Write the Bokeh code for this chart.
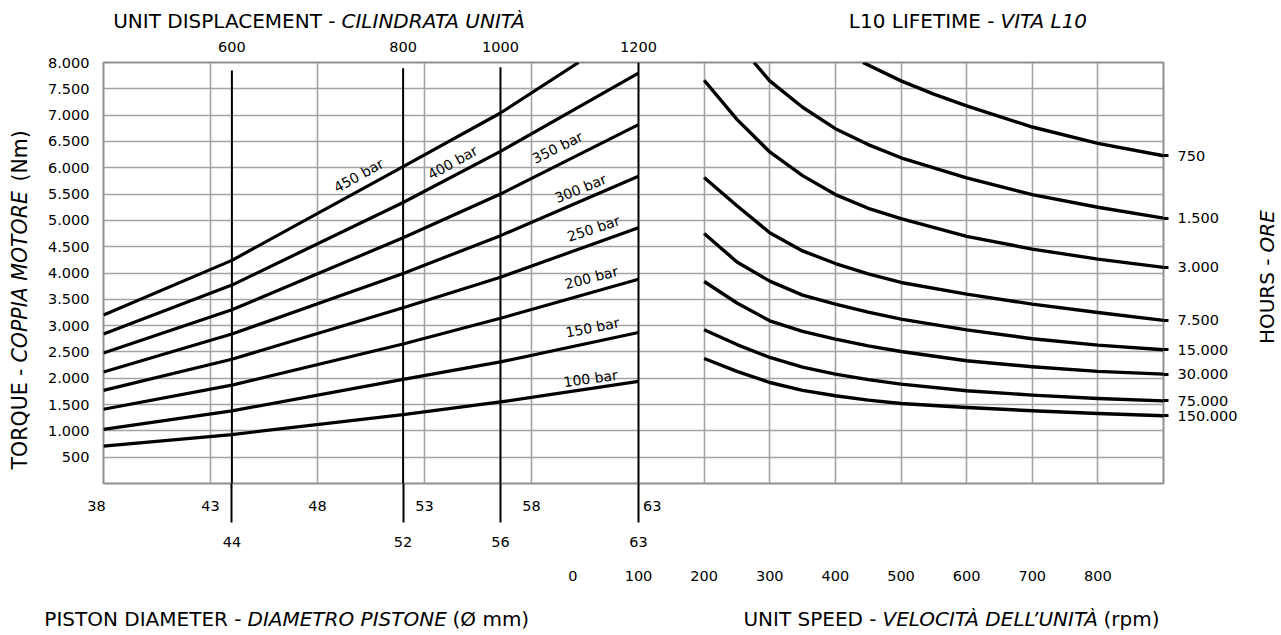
import math
from bokeh.plotting import figure
from bokeh.layouts import column, row
from bokeh.models import Range1d, LinearAxis, FixedTicker, Grid
from bokeh.core.properties import value
from bokeh.embed import file_html
from bokeh.resources import INLINE

# ---------------- data ----------------
# left chart: torque (Nm) vs piston diameter (mm) for each pressure
pressure_labels = ["100 bar", "150 bar", "200 bar", "250 bar", "300 bar", "350 bar", "400 bar", "450 bar"]
diameter_mm = [38, 44, 52, 56.55, 63]
torque_100 = [710, 930, 1310, 1550, 1940]
torque_150 = [1030, 1380, 1980, 2310, 2870]
torque_200 = [1410, 1870, 2650, 3140, 3880]
torque_250 = [1770, 2360, 3340, 3920, 4860]
torque_300 = [2120, 2840, 3990, 4710, 5840]
torque_350 = [2480, 3300, 4670, 5500, 6820]
torque_400 = [2840, 3770, 5340, 6310, 7800]
diameter_450 = [38, 44, 52, 56.55, 60.2]
torque_450 = [3200, 4240, 6020, 7040, 8000]

# nomogram: piston diameter -> unit displacement (line positions read on the 38..63 scale)
nomogram_position = [44, 52, 56.55, 63]
nomogram_diameter = [44, 52, 56, 63]
displacement = [600, 800, 1000, 1200]
nomogram_line_top = [7850, 7890, 7910, 8000]

# right chart: torque (Nm) vs unit speed (rpm) for each L10 life
hours_labels = ["750", "1.500", "3.000", "7.500", "15.000", "30.000", "75.000", "150.000"]
rpm_750 = [442, 500, 550, 600, 700, 800, 900]
torque_750 = [8000, 7651, 7400, 7174, 6774, 6463, 6228]
rpm_1500 = [276, 300, 350, 400, 450, 500, 600, 700, 800, 900]
torque_1500 = [8000, 7651, 7150, 6742, 6440, 6190, 5808, 5490, 5249, 5043]
rpm_std = [200, 250, 300, 350, 400, 450, 500, 600, 700, 800, 900]
torque_3000 = [7663, 6920, 6300, 5850, 5490, 5230, 5033, 4696, 4455, 4264, 4106]
torque_7500 = [5815, 5277, 4765, 4420, 4180, 3985, 3820, 3599, 3409, 3250, 3100]
torque_15000 = [4751, 4210, 3845, 3580, 3409, 3255, 3124, 2920, 2750, 2630, 2541]
torque_30000 = [3839, 3430, 3092, 2890, 2744, 2615, 2509, 2332, 2218, 2130, 2079]
torque_75000 = [2921, 2640, 2395, 2210, 2079, 1975, 1889, 1762, 1680, 1615, 1570]
torque_150000 = [2376, 2130, 1919, 1770, 1667, 1585, 1520, 1444, 1382, 1330, 1287]

torque_ticks = list(range(500, 8001, 500))
diameter_ticks = [38, 43, 48, 53, 58, 63]
speed_ticks = [0, 100, 200, 300, 400, 500, 600, 700, 800]
speed_grid = [200, 300, 400, 500, 600, 700, 800]

# ---------------- layout (canvas pixels) ----------------
FONT = "DejaVu Sans"
W, H = 1280, 632
TOP_H, BOT_Y = 34, 600
LEFT_W, RIGHT_X = 38, 1245
FRAME_L, FRAME_T, FW, FH = 103, 62, 1060, 421
FRAME_B = FRAME_T + FH
PX_PER_MM = 535 / 25.0
PX_PER_RPM = 525 / 800.0
x_end = 38 + FW / PX_PER_MM
speed_start = 100 - (638 - FRAME_L) / PX_PER_RPM
BORDER_TOP = FRAME_T - TOP_H
BORDER_BOTTOM = BOT_Y - FRAME_B


def strip(x0, x1, y0, y1, top=0, bottom=0):
    f = figure(frame_width=x1 - x0, frame_height=y1 - y0,
               x_range=Range1d(x0, x1), y_range=Range1d(y1, y0),
               x_axis_location=None, y_axis_location=None, min_border=0,
               min_border_top=top, min_border_bottom=bottom,
               output_backend="svg", toolbar_location=None)
    f.outline_line_color = None
    f.border_fill_color = "white"
    f.background_fill_color = "white"
    for g in f.grid:
        g.visible = False
    return f


def put(f, text, x, y, align, italic=False, angle=0.0, size="20px"):
    f.text(x=[x], y=[y], text=[text], angle=angle, text_align=align, text_baseline="middle",
           text_font=value(FONT), text_font_size=size,
           text_font_style="italic" if italic else "normal", text_color="black")


# main chart
p = figure(frame_width=FW, frame_height=FH,
           x_range=Range1d(38, x_end), y_range=Range1d(0, 8000),
           x_axis_location=None, y_axis_location=None,
           min_border_left=FRAME_L - LEFT_W, min_border_top=BORDER_TOP,
           min_border_right=RIGHT_X - FRAME_L - FW, min_border_bottom=BORDER_BOTTOM,
           output_backend="svg", toolbar_location=None)
p.extra_x_ranges = {"speed": Range1d(speed_start, 900)}
p.background_fill_color = "white"
p.border_fill_color = "white"
p.outline_line_color = "#8f8f8f"
p.outline_line_width = 2
for g in p.grid:
    g.visible = False

GRID_COLOR = "#a3a3a3"
for grid in [Grid(dimension=1, ticker=FixedTicker(ticks=torque_ticks)),
             Grid(dimension=0, ticker=FixedTicker(ticks=diameter_ticks[1:-1])),
             Grid(dimension=0, ticker=FixedTicker(ticks=speed_grid), x_range_name="speed")]:
    grid.grid_line_color = GRID_COLOR
    grid.grid_line_width = 1.6
    p.add_layout(grid, "center")


def plain_axis(ax, standoff, size="14.5px"):
    ax.axis_line_color = None
    ax.major_tick_line_color = None
    ax.minor_tick_line_color = None
    ax.major_tick_out = 0
    ax.major_tick_in = 0
    ax.minor_tick_out = 0
    ax.minor_tick_in = 0
    ax.major_label_standoff = standoff
    ax.major_label_text_font = FONT
    ax.major_label_text_font_size = size
    ax.major_label_text_color = "black"
    return ax


NB = "\u00a0"
ax_left = plain_axis(LinearAxis(ticker=FixedTicker(ticks=torque_ticks),
                                major_label_overrides={t: f"{t:,}".replace(",", ".") for t in torque_ticks}), 14)
p.add_layout(ax_left, "left")

ax_top = plain_axis(LinearAxis(ticker=FixedTicker(ticks=nomogram_position),
                               major_label_overrides={d: str(v) for d, v in zip(nomogram_position, displacement)}), 11)
p.add_layout(ax_top, "above")

# bottom axis 1: diameter scale; its minor ticks continue the nomogram lines below the chart
ax_b1 = plain_axis(LinearAxis(ticker=FixedTicker(ticks=diameter_ticks, minor_ticks=nomogram_position),
                              major_label_overrides={38: "38" + NB * 3, 63: NB * 6 + "63"}), -25)
ax_b1.minor_tick_line_color = "black"
ax_b1.minor_tick_line_width = 2
ax_b1.minor_tick_out = 39
p.add_layout(ax_b1, "below")

ax_b2 = plain_axis(LinearAxis(ticker=FixedTicker(ticks=nomogram_position),
                              major_label_overrides={d: str(v) for d, v in zip(nomogram_position, nomogram_diameter)}), 20)
p.add_layout(ax_b2, "below")

ax_b3 = plain_axis(LinearAxis(ticker=FixedTicker(ticks=speed_ticks), x_range_name="speed"), 21)
p.add_layout(ax_b3, "below")

right_series = [(rpm_750, torque_750), (rpm_1500, torque_1500), (rpm_std, torque_3000),
                (rpm_std, torque_7500), (rpm_std, torque_15000), (rpm_std, torque_30000),
                (rpm_std, torque_75000), (rpm_std, torque_150000)]
end_torques = [s[1][-1] for s in right_series]
ax_right = plain_axis(LinearAxis(ticker=FixedTicker(ticks=end_torques),
                                 major_label_overrides={t: h for t, h in zip(end_torques, hours_labels)}), 9)
ax_right.major_tick_line_color = "black"
ax_right.major_tick_line_width = 3
ax_right.major_tick_out = 5
p.add_layout(ax_right, "right")

# nomogram vertical lines
p.segment(x0=nomogram_position, y0=[0] * len(nomogram_position), x1=nomogram_position,
          y1=nomogram_line_top, line_color="black", line_width=2)

left_series = [(diameter_mm, torque_100), (diameter_mm, torque_150), (diameter_mm, torque_200),
               (diameter_mm, torque_250), (diameter_mm, torque_300), (diameter_mm, torque_350),
               (diameter_mm, torque_400), (diameter_450, torque_450)]
for xs, ys in left_series:
    p.line(xs, ys, line_color="black", line_width=3.2)

for xs, ys in right_series:
    p.line(xs, ys, line_color="black", line_width=3.4, x_range_name="speed", line_join="round")

# pressure labels (diameter mm, torque Nm) along the curves
label_x = [60.76, 60.85, 60.80, 60.90, 60.29, 59.21, 54.31, 49.92]
label_y = [1995, 2964, 3914, 4846, 5606, 6385, 6100, 5853]
label_angle = [8, 11, 14.5, 18, 22, 26, 29, 29]
p.text(x=label_x, y=label_y, text=pressure_labels, angle=[math.radians(a) for a in label_angle],
       text_font=value(FONT), text_font_size="14px", text_align="center", text_baseline="middle",
       text_color="black")

# title strips
top = strip(0, W, 0, TOP_H)
put(top, "UNIT DISPLACEMENT -", 335, 20, "right")
put(top, "CILINDRATA UNITÀ", 341, 20, "left", True)
put(top, "L10 LIFETIME -", 994, 20, "right")
put(top, "VITA L10", 1000, 20, "left", True)

bottom = strip(0, W, BOT_Y, H)
put(bottom, "PISTON DIAMETER -", 241, 618, "right")
put(bottom, "DIAMETRO PISTONE", 247, 618, "left", True)
put(bottom, "(Ø mm)", 452, 618, "left")
put(bottom, "UNIT SPEED -", 876, 618, "right")
put(bottom, "VELOCITÀ DELL’UNITÀ", 882, 618, "left", True)
put(bottom, "(rpm)", 1103, 618, "left")

left = strip(0, LEFT_W, FRAME_T, FRAME_B, BORDER_TOP, BORDER_BOTTOM)
put(left, "TORQUE -", 19, 368, "right", angle=math.pi / 2, size="20.5px")
put(left, "COPPIA MOTORE", 19, 362, "left", True, angle=math.pi / 2, size="20.5px")
put(left, "(Nm)", 19, 181, "left", angle=math.pi / 2, size="20.5px")

right = strip(RIGHT_X, W, FRAME_T, FRAME_B, BORDER_TOP, BORDER_BOTTOM)
put(right, "HOURS -", 1266, 258, "right", angle=math.pi / 2)
put(right, "ORE", 1266, 252, "left", True, angle=math.pi / 2)

layout = column(top, row(left, p, right), bottom)
open("out.html", "w").write(file_html(layout, INLINE))
